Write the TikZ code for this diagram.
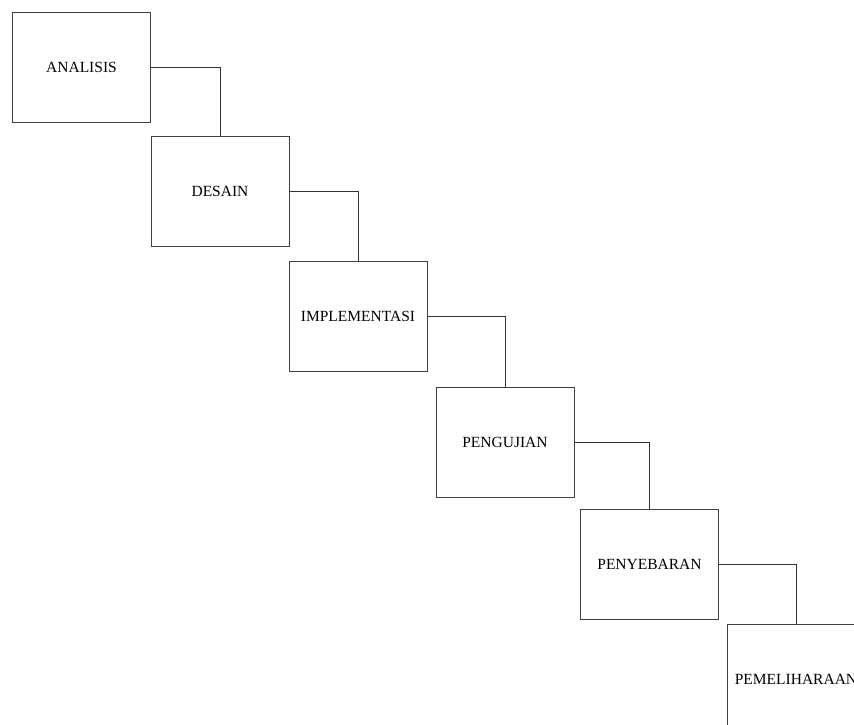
\documentclass[tikz,border=0pt]{standalone}
\usepackage{fontspec}
\setmainfont{Liberation Serif}
\usepackage{tikz}
\usetikzlibrary{positioning}

\tikzset{
    stage/.style={draw=black!75, line width=0.8pt, fill=white, minimum width=138pt, minimum height=110pt, inner sep=0pt, font=\fontsize{15.5}{18}\selectfont},
    link/.style={draw=black!80, line width=0.8pt}
}

\begin{document}
\begin{tikzpicture}[x=1pt, y=-1pt]
    \useasboundingbox (0,0) rectangle (854,725);
    \clip (0,0) rectangle (854,725);
    \node[stage] (analisis) at (81.5,67) {ANALISIS};
    \node[stage] (desain) at (220,191) {DESAIN};
    \node[stage] (implementasi) at (358,316.5) {IMPLEMENTASI};
    \node[stage] (pengujian) at (505,442) {PENGUJIAN};
    \node[stage] (penyebaran) at (649.5,564) {PENYEBARAN};
    \node[stage] (pemeliharaan) at (796,679) {PEMELIHARAAN};

    \draw[link] (analisis) -| (desain);
    \draw[link] (desain) -| (implementasi);
    \draw[link] (implementasi) -| (pengujian);
    \draw[link] (pengujian) -| (penyebaran);
    \draw[link] (penyebaran) -| (pemeliharaan);
\end{tikzpicture}
\end{document}
